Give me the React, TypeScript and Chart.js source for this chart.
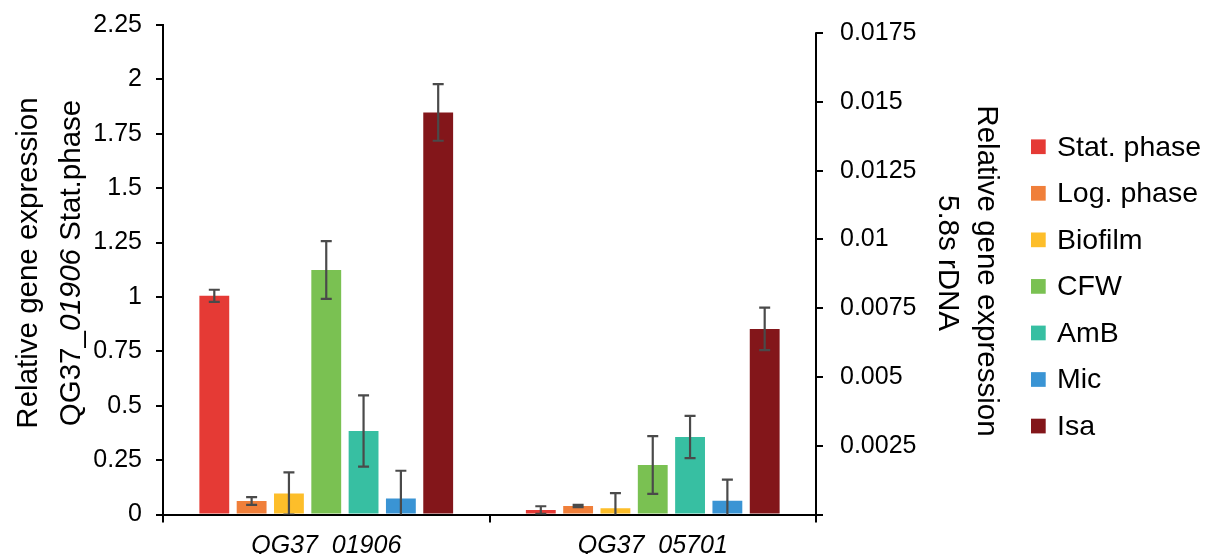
import React, { useEffect, useRef } from 'react';
import { Chart, registerables } from 'chart.js';

Chart.register(...registerables);

// ---- data ----
const categories = ['QG37_01906', 'QG37_05701'];
const seriesNames = ['Stat. phase', 'Log. phase', 'Biofilm', 'CFW', 'AmB', 'Mic', 'Isa'];
const seriesColors = ['#E53A35', '#F07F3A', '#FDBE2A', '#7AC152', '#37BFA2', '#3A94D4', '#83161A'];
// QG37_01906, relative to QG37_01906 Stat. phase (left axis)
const gene01906Values = [1.005, 0.062, 0.097, 1.124, 0.384, 0.073, 1.848];
const gene01906Errors = [0.028, 0.018, 0.097, 0.133, 0.164, 0.128, 0.13];
// QG37_05701, relative to 5.8s rDNA (right axis)
const gene05701Values = [0.00016, 0.00031, 0.00023, 0.0018, 0.00282, 0.0005, 0.00675];
const gene05701Errors = [0.00014, 0.00004, 0.00055, 0.00105, 0.00077, 0.00077, 0.00077];
const leftTicks = [0, 0.25, 0.5, 0.75, 1, 1.25, 1.5, 1.75, 2, 2.25];
const leftTickLabels = ['0', '0.25', '0.5', '0.75', '1', '1.25', '1.5', '1.75', '2', '2.25'];
const rightTicks = [0, 0.0025, 0.005, 0.0075, 0.01, 0.0125, 0.015, 0.0175];
const rightTickLabels = ['', '0.0025', '0.005', '0.0075', '0.01', '0.0125', '0.015', '0.0175'];
const leftTitle = ['Relative gene expression', 'QG37_', '01906', ' Stat.phase'];
const rightTitle = ['Relative gene expression', '5.8s rDNA'];

const FONT = '"Liberation Sans", Arial, Helvetica, sans-serif';

const errorBarPlugin = {
  id: 'errorBars',
  afterDatasetsDraw(chart: any) {
    const ctx = chart.ctx;
    const area = chart.chartArea;
    ctx.save();
    ctx.beginPath();
    ctx.rect(area.left, 0, area.right - area.left, area.bottom);
    ctx.clip();
    ctx.strokeStyle = '#4a4a4a';
    ctx.lineWidth = 2.2;
    chart.data.datasets.forEach((ds: any, di: number) => {
      const meta = chart.getDatasetMeta(di);
      const scale = chart.scales[meta.yAxisID];
      meta.data.forEach((bar: any, i: number) => {
        const v = ds.data[i];
        const e = ds.errors ? ds.errors[i] : null;
        if (v == null || e == null) return;
        const x = bar.x;
        const yT = scale.getPixelForValue(v + e);
        const yB = scale.getPixelForValue(v - e);
        ctx.beginPath();
        ctx.moveTo(x, yT);
        ctx.lineTo(x, yB);
        ctx.moveTo(x - 5.5, yT);
        ctx.lineTo(x + 5.5, yT);
        ctx.moveTo(x - 5.5, yB);
        ctx.lineTo(x + 5.5, yB);
        ctx.stroke();
      });
    });
    ctx.restore();
  },
};

const decorPlugin = {
  id: 'decor',
  afterDraw(chart: any) {
    const ctx = chart.ctx;
    const area = chart.chartArea;
    const y1 = chart.scales.y1;
    ctx.save();
    // right axis line from top tick down
    ctx.strokeStyle = '#000';
    ctx.lineWidth = 2;
    ctx.beginPath();
    ctx.moveTo(area.right, y1.getPixelForValue(rightTicks[rightTicks.length - 1]) - 1);
    ctx.lineTo(area.right, area.bottom);
    ctx.stroke();

    ctx.fillStyle = '#000';
    ctx.textBaseline = 'alphabetic';
    const titleFont = 29.5;
    const midY = 263;
    // left title
    ctx.save();
    ctx.translate(37, midY);
    ctx.rotate(-Math.PI / 2);
    ctx.font = `${titleFont}px ${FONT}`;
    ctx.textAlign = 'center';
    ctx.fillText(leftTitle[0], 0, 0);
    ctx.restore();

    ctx.save();
    ctx.translate(80, midY);
    ctx.rotate(-Math.PI / 2);
    ctx.textAlign = 'left';
    const fN = `${titleFont}px ${FONT}`;
    const fI = `italic ${titleFont}px ${FONT}`;
    ctx.font = fN;
    const w1 = ctx.measureText(leftTitle[1]).width;
    const w3 = ctx.measureText(leftTitle[3]).width;
    ctx.font = fI;
    const w2 = ctx.measureText(leftTitle[2]).width;
    let x0 = -(w1 + w2 + w3) / 2;
    ctx.font = fN;
    ctx.fillText(leftTitle[1], x0, 0);
    x0 += w1;
    ctx.font = fI;
    ctx.fillText(leftTitle[2], x0, 0);
    x0 += w2;
    ctx.font = fN;
    ctx.fillText(leftTitle[3], x0, 0);
    ctx.restore();

    // right title
    ctx.font = `${titleFont}px ${FONT}`;
    ctx.textAlign = 'center';
    ctx.save();
    ctx.translate(978, 271);
    ctx.rotate(Math.PI / 2);
    ctx.fillText(rightTitle[0], 0, 0);
    ctx.restore();
    ctx.save();
    ctx.translate(939, 263);
    ctx.rotate(Math.PI / 2);
    ctx.fillText(rightTitle[1], 0, 0);
    ctx.restore();

    // legend
    ctx.textAlign = 'left';
    ctx.textBaseline = 'middle';
    ctx.font = `28.5px ${FONT}`;
    seriesNames.forEach((name, i) => {
      const cy = 146.7 + i * 46.55;
      ctx.fillStyle = seriesColors[i];
      ctx.fillRect(1031, cy - 7.3, 14.7, 14.7);
      ctx.fillStyle = '#000';
      ctx.fillText(name, 1057, cy + 1);
    });
    ctx.restore();
  },
};

const noVerticalPadding = (scale: any) => {
  scale.paddingTop = 0;
  scale.paddingBottom = 0;
};

export default function App() {
  const canvasRef = useRef<HTMLCanvasElement | null>(null);

  useEffect(() => {
    if (!canvasRef.current) return;
    const datasets: any[] = [
      ...seriesNames.map((name, i) => ({
        label: name,
        data: [gene01906Values[i], null],
        errors: [gene01906Errors[i], null],
        backgroundColor: seriesColors[i],
        yAxisID: 'y',
        skipNull: true,
      })),
      ...seriesNames.map((name, i) => ({
        label: name,
        data: [null, gene05701Values[i]],
        errors: [null, gene05701Errors[i]],
        backgroundColor: seriesColors[i],
        yAxisID: 'y1',
        skipNull: true,
      })),
    ];

    const chart = new Chart(canvasRef.current, {
      type: 'bar',
      data: { labels: categories, datasets },
      options: {
        responsive: false,
        animation: false,
        layout: { padding: { top: 25, left: 0, right: 0, bottom: 0 } },
        plugins: {
          legend: { display: false },
          tooltip: { enabled: false },
        },
        datasets: { bar: { categoryPercentage: 0.8, barPercentage: 0.8 } },
        scales: {
          x: {
            z: 1,
            grid: {
              display: true,
              drawOnChartArea: false,
              drawTicks: true,
              tickLength: 8,
              color: '#000',
              lineWidth: 2,
              offset: true,
            },
            border: { display: true, color: '#000', width: 2 },
            ticks: {
              color: '#000',
              padding: 9,
              font: { family: FONT, size: 25, style: 'italic' },
            },
            afterFit: (scale: any) => {
              scale.height = 39.5;
              scale.paddingLeft = 0;
              scale.paddingRight = 0;
            },
          },
          y: {
            position: 'left',
            min: 0,
            max: 2.25,
            afterBuildTicks: (scale: any) => {
              scale.ticks = leftTicks.map((v) => ({ value: v }));
            },
            grid: {
              drawOnChartArea: false,
              drawTicks: true,
              tickLength: 7,
              color: '#000',
              lineWidth: 2,
            },
            border: { display: true, color: '#000', width: 2 },
            ticks: {
              color: '#000',
              padding: 14,
              font: { family: FONT, size: 25 },
              callback: (_v: any, i: number) => leftTickLabels[i],
            },
            afterFit: (scale: any) => {
              scale.width = 163;
              noVerticalPadding(scale);
            },
          },
          y1: {
            position: 'right',
            min: 0,
            max: 0.0178,
            afterBuildTicks: (scale: any) => {
              scale.ticks = rightTicks.map((v) => ({ value: v }));
            },
            grid: {
              drawOnChartArea: false,
              drawTicks: true,
              tickLength: 7,
              color: '#000',
              lineWidth: 2,
            },
            border: { display: false },
            ticks: {
              color: '#000',
              padding: 17,
              font: { family: FONT, size: 25 },
              callback: (_v: any, i: number) => rightTickLabels[i],
            },
            afterFit: (scale: any) => {
              scale.width = 390;
              noVerticalPadding(scale);
            },
          },
        },
      } as any,
      plugins: [errorBarPlugin, decorPlugin],
    });
    return () => chart.destroy();
  }, []);

  return (
    <div style={{ position: 'fixed', left: 0, top: 0, width: 1206, height: 554, background: '#fff' }}>
      <canvas ref={canvasRef} width={1206} height={554} style={{ display: 'block' }} />
    </div>
  );
}
